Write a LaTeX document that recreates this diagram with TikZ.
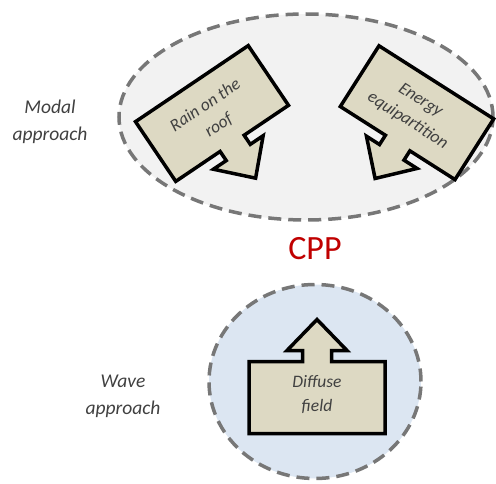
\documentclass[tikz,border=0pt]{standalone}
\usepackage{fontspec}
\setmainfont{Carlito}
\definecolor{zonegray}{HTML}{F2F2F2}
\definecolor{zoneblue}{HTML}{DCE6F2}
\definecolor{dashgray}{HTML}{777777}
\definecolor{boxtan}{HTML}{DDD9C3}
\definecolor{txtgray}{HTML}{404040}
\definecolor{cppred}{HTML}{C00000}
\begin{document}
\begin{tikzpicture}[x=1pt,y=1pt,line join=miter,
	zone/.style={draw=dashgray,line width=3.5pt,dash pattern=on 13pt off 7pt},
	callbox/.style={draw=black,fill=boxtan,line width=3.5pt},
	boxtext/.style={text=txtgray,font=\fontsize{17.5}{24}\selectfont\itshape,align=center},
	sidetext/.style={text=txtgray,font=\fontsize{19.5}{27}\selectfont\itshape,align=center},
	pics/callout/.style={code={
		\draw[callbox] (-68,-36)--(68,-36)--(68,36)--(14.5,36)--(14.5,47)--(30,47)--(0,78)
			--(-30,47)--(-14.5,47)--(-14.5,36)--(-68,36)--cycle;}}]
	\useasboundingbox (0,0) rectangle (496,483);
	\path (306,366)coordinate(M) (315,101.5)coordinate(W) (212,369.5)coordinate(R) (417,370.3)coordinate(E) (317,85.5)coordinate(D);
	\draw[zone,fill=zonegray] (M) ellipse [x radius=187,y radius=103];
	\draw[zone,fill=zoneblue] (W) ellipse [x radius=106,y radius=97];
	\pic[rotate=34,yscale=-1] at (R) {callout};
	\pic[rotate=-32.5,yscale=-1] at (E) {callout};
	\pic at (D) {callout};
	\node[boxtext,rotate=34] (rain) at ([shift={(0,-2)}]R) {Rain on the\\roof};
	\node[boxtext,rotate=-32.5] (energy) at ([shift={(-3,2)}]E) {Energy\\equipartition};
	\node[boxtext] (diffuse) at ([shift={(0,3)}]D) {Diffuse\\field};
	\node[sidetext] (modal) at (50,361) {Modal\\approach};
	\node[sidetext] (wave) at (123,87) {Wave\\approach};
	\node[text=cppred,font=\fontsize{34}{40}\selectfont] (cpp) at (315,234) {CPP};
\end{tikzpicture}
\end{document}
